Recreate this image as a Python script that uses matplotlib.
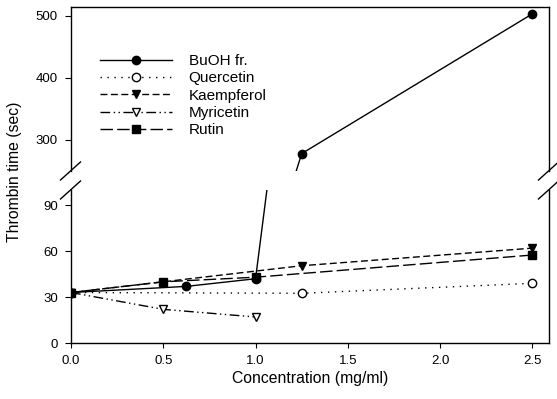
import matplotlib
matplotlib.use('Agg')
import matplotlib.pyplot as plt
from matplotlib.lines import Line2D

plt.rcParams.update({
    'font.family': ['Liberation Sans', 'DejaVu Sans'],
    'font.size': 9,
    'axes.linewidth': 1.0,
    'xtick.direction': 'out',
    'ytick.direction': 'out',
    'xtick.major.size': 3.5,
    'ytick.major.size': 4,
    'ytick.major.pad': 5.5,
    'xtick.major.pad': 5,
    'lines.linewidth': 1.0,
})

# ---- data ----
buoh_x = [0.0, 0.625, 1.0, 1.25, 2.5]
buoh_y = [33, 37, 42, 278, 503]
quer_x = [0.0, 1.25, 2.5]
quer_y = [33, 32.5, 39]
kaem_x = [0.0, 1.25, 2.5]
kaem_y = [33, 50.5, 62]
myri_x = [0.0, 0.5, 1.0]
myri_y = [33, 22, 17]
rutin_x = [0.0, 0.5, 1.0, 2.5]
rutin_y = [33, 40, 43, 57.5]

x_ticks = [0.0, 0.5, 1.0, 1.5, 2.0, 2.5]
low_ticks = [0, 30, 60, 90]
up_ticks = [300, 400, 500]

W, H = 557, 399
fig = plt.figure(figsize=(W / 100, H / 100), dpi=100)
L, R = 71 / W, 549 / W
ax_lo = fig.add_axes([L, 1 - 343 / H, R - L, (343 - 190) / H])
ax_hi = fig.add_axes([L, 1 - 171 / H, R - L, (171 - 7) / H])

series = [
    ('BuOH fr.', buoh_x, buoh_y, dict(ls='-', marker='o', mfc='black')),
    ('Quercetin', quer_x, quer_y, dict(ls=(0, (1, 4)), marker='o', mfc='white')),
    ('Kaempferol', kaem_x, kaem_y, dict(ls=(0, (5, 2.5)), marker='v', mfc='black')),
    ('Myricetin', myri_x, myri_y, dict(ls=(0, (7, 2.5, 1, 2.5, 1, 2.5)), marker='v', mfc='white')),
    ('Rutin', rutin_x, rutin_y, dict(ls=(0, (9, 3)), marker='s', mfc='black')),
]

for ax in (ax_lo, ax_hi):
    for name, xs, ys, st in series:
        ax.plot(xs, ys, color='black', mec='black', ms=6, label=name, **st)
    ax.set_xlim(0, 2.59)

ax_lo.set_ylim(0, 100)
ax_hi.set_ylim(250, 514)
ax_lo.set_yticks(low_ticks)
ax_hi.set_yticks(up_ticks)
ax_lo.set_xticks(x_ticks)
ax_lo.set_xticklabels([f'{v:.1f}' for v in x_ticks])
ax_hi.set_xticks([])
ax_lo.spines['top'].set_visible(False)
ax_hi.spines['bottom'].set_visible(False)
ax_lo.tick_params(labelsize=9.5)
ax_hi.tick_params(labelsize=9.5)

ax_lo.set_xlabel('Concentration (mg/ml)', fontsize=11.3, labelpad=3)
fig.text(15 / W, 1 - 172 / H, 'Thrombin time (sec)', rotation=90,
         ha='center', va='center', fontsize=11.3)

# break marks on both spines
for xp in (70.5, 548.5):
    for yp in (171, 190):
        fig.add_artist(Line2D([(xp - 10) / W, (xp + 10) / W],
                              [1 - (yp + 9) / H, 1 - (yp - 9) / H],
                              color='black', lw=1.0, transform=fig.transFigure))

handles, labels = ax_hi.get_legend_handles_labels()
ax_hi.legend(handles, labels, loc='upper left', frameon=False, fontsize=11,
             bbox_to_anchor=(100 / W, 1 - 54 / H), bbox_transform=fig.transFigure,
             borderpad=0, borderaxespad=0, handlelength=4.7, handletextpad=1.1,
             labelspacing=0.22)

fig.savefig('out.png', dpi=100)
